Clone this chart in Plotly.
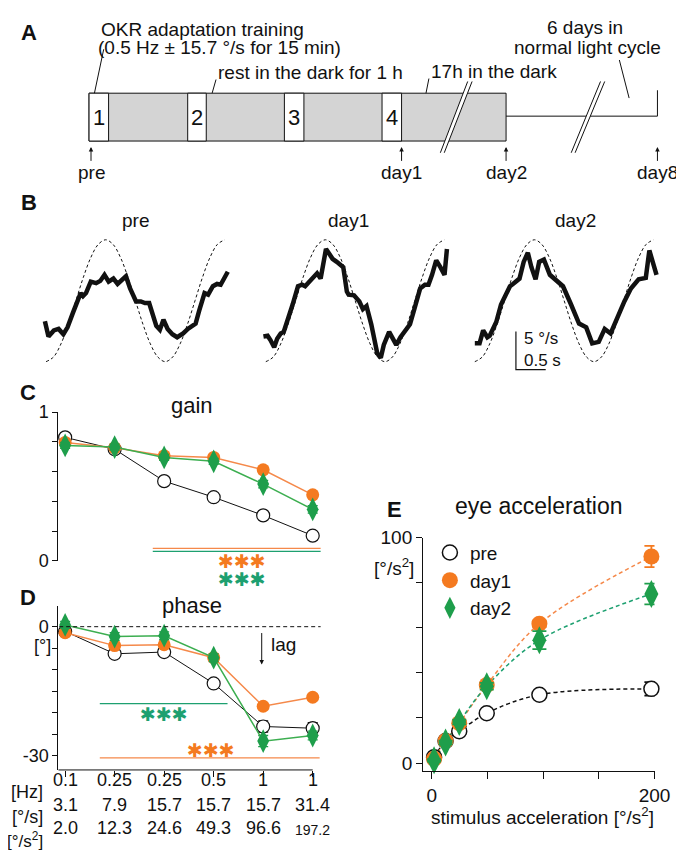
import plotly.graph_objects as go

W, H = 684, 853
FONT = "Liberation Sans, Arial, Helvetica, sans-serif"
BLACK = "#111111"
ORANGE = "#F47A20"
ORANGE_LINE = "#F5894A"
GREEN = "#1E9E4B"
GREEN_LINE = "#3CAE50"
TEAL = "#1DA070"
GRAY = "#D4D4D4"


def px(x):
    return x / W


def py(y):
    return 1 - y / H


# ---------------- Panel B data (eye velocity traces, deg/s vs s) ----------------
stim_t = [0, 0.125, 0.25, 0.375, 0.5, 0.625, 0.75, 0.875, 1.0, 1.125, 1.25, 1.375, 1.5,
          1.625, 1.75, 1.875, 2.0, 2.125, 2.25, 2.375, 2.5, 2.625, 2.75, 2.875, 3.0]
stim_v = [-8.0, -7.39, -5.66, -3.06, 0.0, 3.06, 5.66, 7.39, 8.0, 7.39, 5.66, 3.06, 0.0,
          -3.06, -5.66, -7.39, -8.0, -7.39, -5.66, -3.06, 0.0, 3.06, 5.66, 7.39, 8.0]

pre_t = [-0.02, 0.04, 0.13, 0.21, 0.29, 0.36, 0.45, 0.52, 0.58, 0.62, 0.67, 0.75, 0.84, 0.91,
         0.98, 1.05, 1.13, 1.20, 1.27, 1.34, 1.41, 1.51, 1.59, 1.66, 1.73, 1.79, 1.85, 1.91,
         1.97, 2.04, 2.12, 2.20, 2.30, 2.38, 2.51, 2.57, 2.66, 2.72, 2.80, 2.87, 2.93, 3.05]
pre_v = [-2.7, -4.7, -3.9, -3.7, -4.4, -3.5, -1.6, -0.1, 1.0, 0.6, 1.0, 2.5, 2.3, 2.6,
         3.4, 2.5, 2.9, 2.2, 2.7, 3.2, 1.6, -0.1, -0.1, -0.3, -0.3, -1.6, -3.3, -3.8,
         -2.5, -3.7, -4.4, -4.8, -4.3, -3.7, -3.0, -1.3, 1.0, 0.8, 1.9, 2.2, 2.1, 3.8]

day1_t = [-0.04, 0.03, 0.08, 0.14, 0.19, 0.25, 0.30, 0.37, 0.45, 0.54, 0.61, 0.66, 0.73, 0.81,
          0.86, 0.92, 0.97, 1.01, 1.07, 1.12, 1.19, 1.25, 1.30, 1.36, 1.39, 1.48, 1.57, 1.63,
          1.69, 1.77, 1.82, 1.87, 1.93, 1.98, 2.07, 2.15, 2.19, 2.26, 2.34, 2.42, 2.50, 2.59,
          2.67, 2.73, 2.79, 2.86, 2.93, 3.00, 3.04]
day1_v = [-4.7, -4.6, -5.2, -6.1, -5.0, -4.3, -4.1, -2.6, -0.5, 1.9, 2.1, 1.9, 2.5, 3.1,
          3.6, 2.9, 4.8, 6.8, 6.1, 5.5, 5.1, 4.6, 4.4, 1.2, 0.8, 0.7, -0.1, -1.1,
          -0.7, -3.1, -5.2, -6.9, -7.5, -5.8, -4.1, -5.2, -5.8, -4.8, -3.9, -3.1, -0.9, 1.6,
          2.1, 2.1, 3.4, 5.3, 4.4, 3.4, 6.8]

day2_t = [0.0, 0.08, 0.14, 0.21, 0.25, 0.31, 0.36, 0.44, 0.52, 0.59, 0.64, 0.75, 0.82, 0.89,
          0.95, 1.02, 1.08, 1.16, 1.26, 1.36, 1.48, 1.61, 1.75, 1.87, 1.97, 2.08, 2.18, 2.28,
          2.39, 2.51, 2.62, 2.75, 2.87, 2.93, 3.05]
day2_v = [-5.6, -5.6, -3.9, -4.8, -4.6, -3.5, -2.8, -0.5, 0.8, 1.9, 2.2, 2.9, 5.1, 6.3,
          4.4, 2.8, 5.1, 5.4, 3.4, 2.8, 1.9, -0.4, -3.0, -3.5, -5.6, -5.4, -3.7, -4.3,
          -2.2, -0.1, 1.6, 2.8, 3.0, 6.6, 3.4]

# scale bar (in day2 axis units)
scale_t = [0.69, 1.19]      # 0.5 s
scale_v = [-9.04, -4.04]    # 5 deg/s

# ---------------- Panels C/D/E data ----------------
cond_idx = [0, 1, 2, 3, 4, 5]
hz_labels = ["0.1", "0.25", "0.25", "0.5", "1", "1"]
speed_labels = ["3.1", "7.9", "15.7", "15.7", "15.7", "31.4"]
accel_labels = ["2.0", "12.3", "24.6", "49.3", "96.6", "197.2"]
stim_accel = [2.0, 12.3, 24.6, 49.3, 96.6, 197.2]

gain_pre = [0.83, 0.75, 0.536, 0.428, 0.306, 0.17]
gain_day1 = [0.796, 0.76, 0.706, 0.695, 0.612, 0.444]
gain_day2 = [0.776, 0.765, 0.695, 0.669, 0.516, 0.346]
gain_pre_err = [0.02, 0.02, 0.02, 0.02, 0.02, 0.015]
gain_day1_err = [0.02, 0.02, 0.02, 0.02, 0.02, 0.02]
gain_day2_err = [0.02, 0.02, 0.02, 0.02, 0.025, 0.025]

phase_pre = [-1.1, -6.3, -5.9, -13.2, -23.2, -23.6]
phase_day1 = [-1.4, -4.4, -4.2, -7.2, -18.5, -16.4]
phase_day2 = [0.4, -2.3, -2.1, -7.2, -26.6, -25.3]
phase_pre_err = [0.6, 0.8, 0.8, 0.8, 1.3, 1.3]
phase_day1_err = [0.6, 0.8, 0.8, 0.8, 0.8, 0.7]
phase_day2_err = [0.8, 0.9, 0.9, 0.9, 1.3, 1.0]

acc_pre = [2.6, 9.8, 14.1, 22.1, 30.3, 32.9]
acc_day1 = [1.9, 9.8, 17.7, 34.6, 61.8, 91.6]
acc_day2 = [1.2, 9.1, 18.2, 34.1, 54.5, 75.0]
acc_pre_err = [0.5, 0.8, 1.0, 1.0, 1.0, 3.0]
acc_day1_err = [0.5, 0.8, 1.0, 1.2, 1.5, 4.7]
acc_day2_err = [0.5, 0.8, 1.0, 1.5, 4.0, 4.6]

# significance bars (index range, level)
sig_gain_day1 = ([1.77, 5.16], 0.085)
sig_gain_day2 = ([1.77, 5.16], 0.065)
sig_phase_day2 = ([0.70, 3.28], -17.9)
sig_phase_day1 = ([0.70, 5.14], -30.5)

fig = go.Figure()

# ---- Panel B traces ----
b_axes = [("x", "y", pre_t, pre_v), ("x2", "y2", day1_t, day1_v), ("x3", "y3", day2_t, day2_v)]
for xa, ya, tt, vv in b_axes:
    fig.add_trace(go.Scatter(x=stim_t, y=stim_v, xaxis=xa, yaxis=ya, mode="lines",
                             line=dict(color=BLACK, width=1, dash="3px,2.5px", shape="spline"),
                             showlegend=False, hoverinfo="skip", cliponaxis=False))
    fig.add_trace(go.Scatter(x=tt, y=vv, xaxis=xa, yaxis=ya, mode="lines",
                             line=dict(color=BLACK, width=4.5),
                             showlegend=False, hoverinfo="skip", cliponaxis=False))
fig.add_trace(go.Scatter(x=[scale_t[0], scale_t[0], scale_t[1]],
                         y=[scale_v[1], scale_v[0], scale_v[0]],
                         xaxis="x3", yaxis="y3", mode="lines",
                         line=dict(color=BLACK, width=1.2), showlegend=False,
                         hoverinfo="skip", cliponaxis=False))


def ebar(arr, color):
    return dict(type="data", array=arr, width=5, thickness=1.3, color=color)


# ---- Panels C (gain) and D (phase) ----
sets_cd = [
    (gain_pre, gain_pre_err, phase_pre, phase_pre_err, "pre"),
    (gain_day1, gain_day1_err, phase_day1, phase_day1_err, "day1"),
    (gain_day2, gain_day2_err, phase_day2, phase_day2_err, "day2"),
]
style = {
    "pre": dict(line=dict(color=BLACK, width=1),
                marker=dict(symbol="circle", size=13, color="white", line=dict(color=BLACK, width=1.2)),
                err=BLACK),
    "day1": dict(line=dict(color=ORANGE_LINE, width=1.5),
                 marker=dict(symbol="circle", size=13, color=ORANGE, line=dict(width=0)),
                 err=ORANGE),
    "day2": dict(line=dict(color=GREEN_LINE, width=1.5),
                 marker=dict(symbol="diamond-tall", size=17, color=GREEN, line=dict(width=0)),
                 err=GREEN),
}
for g, ge, p, pe, name in sets_cd:
    s = style[name]
    fig.add_trace(go.Scatter(x=cond_idx, y=g, xaxis="x4", yaxis="y4", mode="lines+markers",
                             line=s["line"], marker=s["marker"], error_y=ebar(ge, s["err"]),
                             showlegend=False, cliponaxis=False, hoverinfo="skip"))
    fig.add_trace(go.Scatter(x=cond_idx, y=p, xaxis="x5", yaxis="y5", mode="lines+markers",
                             line=s["line"], marker=s["marker"], error_y=ebar(pe, s["err"]),
                             showlegend=False, cliponaxis=False, hoverinfo="skip"))

# ---- Panel E (eye acceleration) ----
fit_colors = {"pre": BLACK, "day1": ORANGE_LINE, "day2": TEAL}
e_sets = [(acc_pre, acc_pre_err, "pre"), (acc_day1, acc_day1_err, "day1"), (acc_day2, acc_day2_err, "day2")]
for a, ae, name in e_sets:
    fig.add_trace(go.Scatter(x=stim_accel, y=a, xaxis="x6", yaxis="y6", mode="lines",
                             line=dict(color=fit_colors[name], width=1.5, dash="4px,3px", shape="spline"),
                             showlegend=False, hoverinfo="skip", cliponaxis=False))
e_marker = {
    "pre": dict(symbol="circle", size=15, color="white", line=dict(color=BLACK, width=1.5)),
    "day1": dict(symbol="circle", size=16, color=ORANGE, line=dict(width=0)),
    "day2": dict(symbol="diamond-tall", size=20, color=GREEN, line=dict(width=0)),
}
for a, ae, name in e_sets:
    fig.add_trace(go.Scatter(x=stim_accel, y=a, xaxis="x6", yaxis="y6", mode="markers", name=name,
                             marker=e_marker[name],
                             error_y=dict(type="data", array=ae, width=7, thickness=1.8,
                                          color=style[name]["err"]),
                             showlegend=True, cliponaxis=False, hoverinfo="skip"))

# ---------------- layout / axes ----------------
hidden = dict(visible=False, showgrid=False, zeroline=False)
b_ydom = [py(363.6), py(215.4)]
lay = dict(
    width=W, height=H, autosize=False,
    margin=dict(l=0, r=0, t=0, b=0),
    paper_bgcolor="white", plot_bgcolor="rgba(0,0,0,0)",
    font=dict(family=FONT, size=18, color=BLACK),
    xaxis=dict(domain=[px(32.9), px(228.1)], range=[-0.1, 3.1], anchor="y", **hidden),
    yaxis=dict(domain=b_ydom, range=[-9.5, 9.5], anchor="x", **hidden),
    xaxis2=dict(domain=[px(257.9), px(453.1)], range=[-0.1, 3.1], anchor="y2", **hidden),
    yaxis2=dict(domain=b_ydom, range=[-9.5, 9.5], anchor="x2", **hidden),
    xaxis3=dict(domain=[px(471.9), px(667.1)], range=[-0.1, 3.1], anchor="y3", **hidden),
    yaxis3=dict(domain=b_ydom, range=[-9.5, 9.5], anchor="x3", **hidden),
)
cd_xrange = [(51.5 - 58.5) / 50.7, (322 - 58.5) / 50.7]
lay["xaxis4"] = dict(domain=[px(51.5), px(322)], range=cd_xrange, anchor="y4", **hidden)
lay["yaxis4"] = dict(domain=[py(556), py(403.5)], range=[0, 1], anchor="x4",
                     showline=True, linecolor=BLACK, linewidth=1, ticks="outside", ticklen=5,
                     tickcolor=BLACK, tickvals=[0, 0.2, 0.4, 0.6, 0.8, 1],
                     ticktext=["0", "", "", "", "", "1"], tickfont=dict(size=18),
                     showgrid=False, zeroline=False)
lay["xaxis5"] = dict(domain=[px(51.5), px(322)], range=cd_xrange, anchor="y5",
                     showline=False, ticks="outside", ticklen=6, tickcolor=BLACK,
                     tickvals=cond_idx, showticklabels=False, showgrid=False, zeroline=False)
lay["yaxis5"] = dict(domain=[py(770), py(601.7)], range=[-33.3, 4.9], anchor="x5",
                     showline=True, linecolor=BLACK, linewidth=1, ticks="outside", ticklen=5,
                     tickcolor=BLACK, tickvals=[0, -5, -10, -15, -20, -25, -30],
                     ticktext=["0", "", "", "", "", "", "-30"], tickfont=dict(size=18),
                     showgrid=False, zeroline=False)
lay["xaxis6"] = dict(domain=[px(425), px(662)], range=[-7.9, 200], anchor="y6",
                     showline=True, linecolor=BLACK, linewidth=1, ticks="outside", ticklen=7,
                     tickcolor=BLACK, tickvals=[0, 50, 100, 150, 200],
                     ticktext=["0", "", "", "", "200"], tickfont=dict(size=19),
                     showgrid=False, zeroline=False)
lay["yaxis6"] = dict(domain=[py(771.5), py(532)], range=[-3.7, 100], anchor="x6",
                     showline=True, linecolor=BLACK, linewidth=1, ticks="outside", ticklen=6,
                     tickcolor=BLACK, tickvals=[0, 20, 40, 60, 80, 100],
                     ticktext=["0", "", "", "", "", "100"], tickfont=dict(size=19),
                     showgrid=False, zeroline=False)
lay["legend"] = dict(x=px(432), y=py(528), xanchor="left", yanchor="top",
                     font=dict(size=19, family=FONT), bgcolor="rgba(0,0,0,0)",
                     itemwidth=30, tracegroupgap=0)
fig.update_layout(**lay)

# ---------------- shapes ----------------
shapes = []


def line_px(x0, y0, x1, y1, color=BLACK, width=1, dash=None):
    d = dict(type="line", xref="paper", yref="paper", x0=px(x0), y0=py(y0), x1=px(x1), y1=py(y1),
             line=dict(color=color, width=width))
    if dash:
        d["line"]["dash"] = dash
    shapes.append(d)


# Panel A timeline
box_left, box_right, box_top, box_bot = 83, 510, 77, 126
shapes.append(dict(type="rect", xref="paper", yref="paper", x0=px(box_left), x1=px(box_right),
                   y0=py(box_bot), y1=py(box_top), fillcolor=GRAY, line=dict(color=BLACK, width=1)))
train_cells = [(83, 103), (184, 203), (283, 303), (383, 403)]
for a, b in train_cells:
    shapes.append(dict(type="rect", xref="paper", yref="paper", x0=px(a), x1=px(b),
                       y0=py(box_bot), y1=py(box_top), fillcolor="white",
                       line=dict(color=BLACK, width=1)))
line_px(510, 100.5, 665, 100.5)
line_px(665, 74, 665, 100.5)
for (bx0, bx1, tx0, tx1) in [(442.7, 446.7, 470.7, 475.2), (576.7, 580.7, 606.7, 611.0)]:
    shapes.append(dict(type="path", xref="paper", yref="paper",
                       path=f"M {px(bx0)} {py(138)} L {px(tx0)} {py(65)} L {px(tx1)} {py(65)} L {px(bx1)} {py(138)} Z",
                       fillcolor="white", line=dict(width=0)))
    line_px(bx0, 138, tx0, 65)
    line_px(bx1, 138, tx1, 65)
# leader lines
line_px(98, 32, 88.5, 77)
line_px(213, 63, 209, 77)
line_px(431, 62, 428, 77)
line_px(626, 43, 636, 82)

# Panel C significance lines
for (rng, lvl), col in [(sig_gain_day1, ORANGE_LINE), (sig_gain_day2, TEAL)]:
    shapes.append(dict(type="line", xref="x4", yref="y4", x0=rng[0], x1=rng[1], y0=lvl, y1=lvl,
                       line=dict(color=col, width=1.3)))
# Panel D lines
shapes.append(dict(type="line", xref="x5", yref="y5", x0=-0.12, x1=5.16, y0=0, y1=0,
                   line=dict(color=BLACK, width=1, dash="4px,3px")))
for (rng, lvl), col in [(sig_phase_day2, TEAL), (sig_phase_day1, ORANGE_LINE)]:
    shapes.append(dict(type="line", xref="x5", yref="y5", x0=rng[0], x1=rng[1], y0=lvl, y1=lvl,
                       line=dict(color=col, width=1.3)))
shapes.append(dict(type="line", xref="x5", yref="paper", x0=cd_xrange[0], x1=cond_idx[-1],
                   y0=py(770), y1=py(770), line=dict(color=BLACK, width=1)))
fig.update_layout(shapes=shapes)

# ---------------- annotations ----------------
anns = []


def txt(text, x, y, size=19, xanchor="center", bold=False, color=BLACK, xref="paper", yref="paper",
        yanchor="middle", family=FONT):
    if bold:
        text = f"<b>{text}</b>"
    anns.append(dict(text=text, x=px(x) if xref == "paper" else x, y=py(y) if yref == "paper" else y,
                     xref=xref, yref=yref, xanchor=xanchor, yanchor=yanchor, showarrow=False,
                     font=dict(size=size, color=color, family=family)))


# panel letters
txt("A", 22, 15, size=22, bold=True)
txt("B", 22, 189, size=22, bold=True)
txt("C", 20, 383, size=22, bold=True)
txt("D", 20, 593, size=22, bold=True)
txt("E", 396, 503, size=22, bold=True)

# panel A texts
txt("OKR adaptation training", 93, 12, xanchor="left")
txt("(0.5 Hz ± 15.7 °/s for 15 min)", 90, 30, xanchor="left")
txt("rest in the dark for 1 h", 213, 56, xanchor="left")
txt("17h in the dark", 431, 55, xanchor="left")
txt("6 days in", 591, 10)
txt("normal light cycle", 593, 30)
for i, (a, b) in enumerate(train_cells):
    txt(str(i + 1), (a + b) / 2, 101.5, size=22)
for lab, xx in [("pre", 85), ("day1", 403), ("day2", 510), ("day8", 665)]:
    anns.append(dict(text=lab, x=px(xx), y=py(132), xref="paper", yref="paper", showarrow=True,
                     ax=0, ay=26, arrowhead=2, arrowsize=0.9, arrowwidth=1, arrowcolor=BLACK,
                     font=dict(size=19, family=FONT, color=BLACK)))

# panel B texts
txt("pre", 131, 207)
txt("day1", 349, 207)
txt("day2", 581, 207)
txt("5 °/s", 526, 328, xanchor="left", size=17)
txt("0.5 s", 526, 351, xanchor="left", size=17)

# panel C texts
STAR = "✱✱✱"
STAR_SIZE = 19
txt("gain", 188, 397, size=22)
star_c_x = 240
txt(STAR, star_c_x, 556, size=STAR_SIZE, color=ORANGE, family="DejaVu Sans")
txt(STAR, star_c_x, 574, size=STAR_SIZE, color=TEAL, family="DejaVu Sans")

# panel D texts
txt("phase", 188, 602, size=22)
txt("[°]", 46, 643, size=18, xanchor="right")
anns.append(dict(text=STAR, x=2.0, y=-20.2, xref="x5", yref="y5", showarrow=False,
                 font=dict(size=STAR_SIZE, color=TEAL, family="DejaVu Sans")))
anns.append(dict(text=STAR, x=2.95, y=-28.6, xref="x5", yref="y5", showarrow=False,
                 font=dict(size=STAR_SIZE, color=ORANGE, family="DejaVu Sans")))
anns.append(dict(text=" ", x=3.97, y=-8.8, xref="x5", yref="y5", showarrow=True, ax=0, ay=-34,
                 arrowhead=2, arrowsize=0.9, arrowwidth=1, arrowcolor=BLACK, font=dict(size=2)))
txt("lag", 267, 642, size=19, xanchor="left")

# tick rows under D
row_y = [793, 818, 842]
for lab, yy in zip(["[Hz]", "[°/s]", "[°/s<sup>2</sup>]"], row_y):
    txt(lab, 38, yy, size=18 if yy != 842 else 17, xanchor="right")
for labels, yy in zip([hz_labels, speed_labels, accel_labels], row_y):
    for i, lab in zip(cond_idx, labels):
        size = 14 if lab == "197.2" else 18
        anns.append(dict(text=lab, x=i, y=py(yy), xref="x5", yref="paper", showarrow=False,
                         font=dict(size=size, family=FONT, color=BLACK)))

# panel E texts
txt("eye acceleration", 544, 500, size=23)
txt("[°/s<sup>2</sup>]", 395, 562, size=19)
txt("stimulus acceleration [°/s<sup>2</sup>]", 547, 817, size=19)

fig.update_layout(annotations=anns)
fig.write_html("out.html")
